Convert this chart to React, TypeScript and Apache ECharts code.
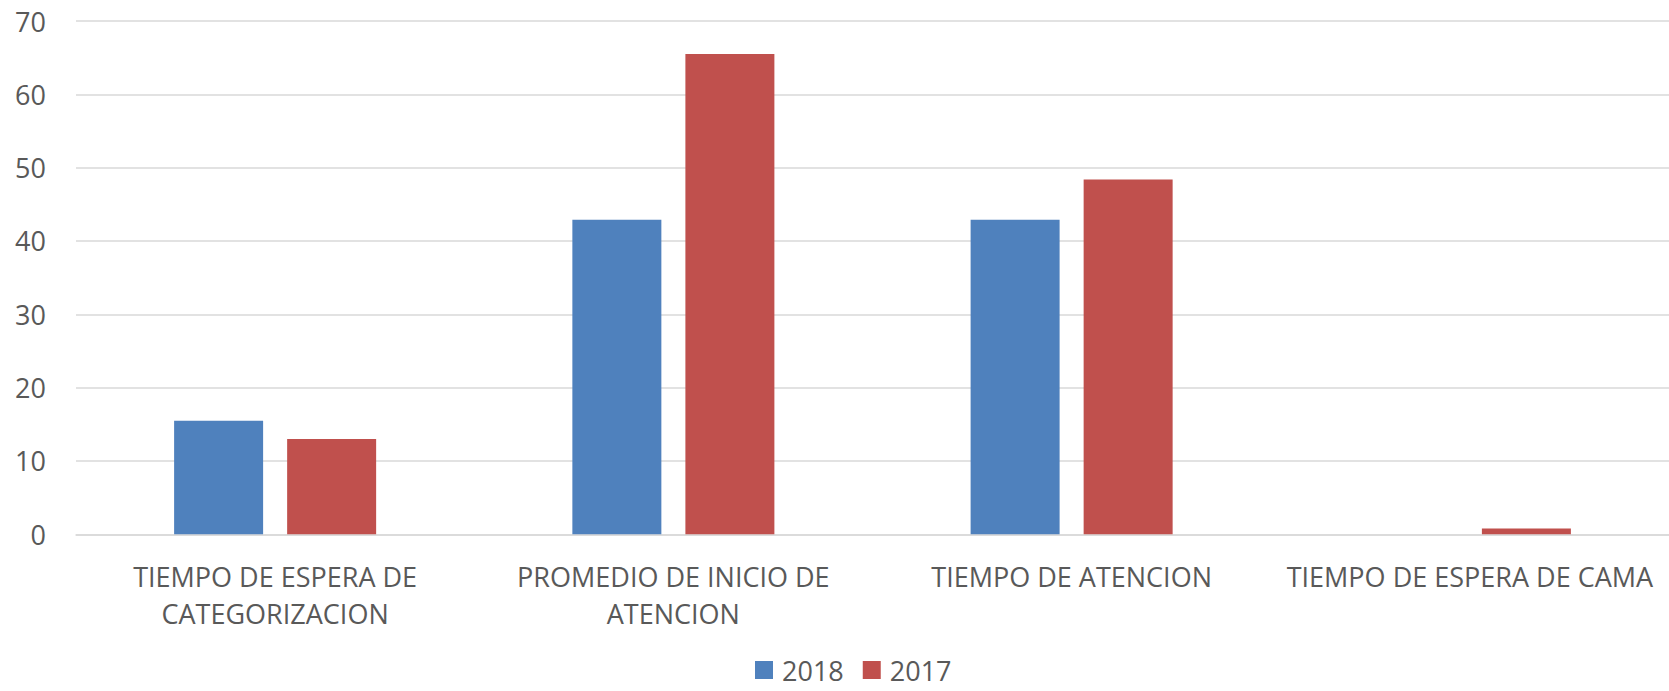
import React, { useEffect, useRef } from "react";
import * as echarts from "echarts";

const categories = [
  "TIEMPO DE ESPERA DE\nCATEGORIZACION",
  "PROMEDIO DE INICIO DE\nATENCION",
  "TIEMPO DE ATENCION",
  "TIEMPO DE ESPERA DE CAMA",
];
const series2018 = [15.5, 42.9, 42.9, null];
const series2017 = [13.0, 65.5, 48.4, 0.8];
const yTicks = { min: 0, max: 70, interval: 10 };

const FONT = "'Open Sans', sans-serif";
const TEXT = "#595959";

export default function App() {
  const ref = useRef<HTMLDivElement>(null);
  useEffect(() => {
    if (!ref.current) return;
    const chart = echarts.init(ref.current, null, { renderer: "svg" });
    chart.setOption({
      animation: false,
      textStyle: { fontFamily: FONT },
      grid: { left: 76, right: -3, top: 21, bottom: 156.7, containLabel: false },
      legend: {
        left: 750,
        top: 651,
        itemWidth: 18,
        itemHeight: 18,
        itemGap: 19,
        icon: "rect",
        textStyle: { fontFamily: FONT, fontSize: 27, color: TEXT, lineHeight: 28, padding: [0, 0, 0, 4] },
        data: ["2018", "2017"],
      },
      xAxis: {
        type: "category",
        data: categories,
        axisLine: { lineStyle: { color: "#D9D9D9", width: 1.5 } },
        axisTick: { show: false },
        axisLabel: {
          interval: 0,
          fontFamily: FONT,
          fontSize: 27,
          color: TEXT,
          lineHeight: 37,
          margin: 24,
        },
      },
      yAxis: {
        type: "value",
        min: yTicks.min,
        max: yTicks.max,
        interval: yTicks.interval,
        axisLine: { show: false },
        axisTick: { show: false },
        splitLine: { lineStyle: { color: "#D9D9D9", width: 1.5 } },
        axisLabel: { fontFamily: FONT, fontSize: 27, color: TEXT, margin: 30 },
      },
      series: [
        {
          name: "2018",
          type: "bar",
          data: series2018,
          barWidth: 89,
          barGap: "27%",
          itemStyle: { color: "#4F81BD" },
        },
        {
          name: "2017",
          type: "bar",
          data: series2017,
          barWidth: 89,
          itemStyle: { color: "#C0504D" },
        },
      ],
    });
    return () => chart.dispose();
  }, []);
  return (
    <div
      ref={ref}
      style={{ position: "fixed", left: 0, top: 0, width: 1669, height: 691, background: "#fff" }}
    />
  );
}
